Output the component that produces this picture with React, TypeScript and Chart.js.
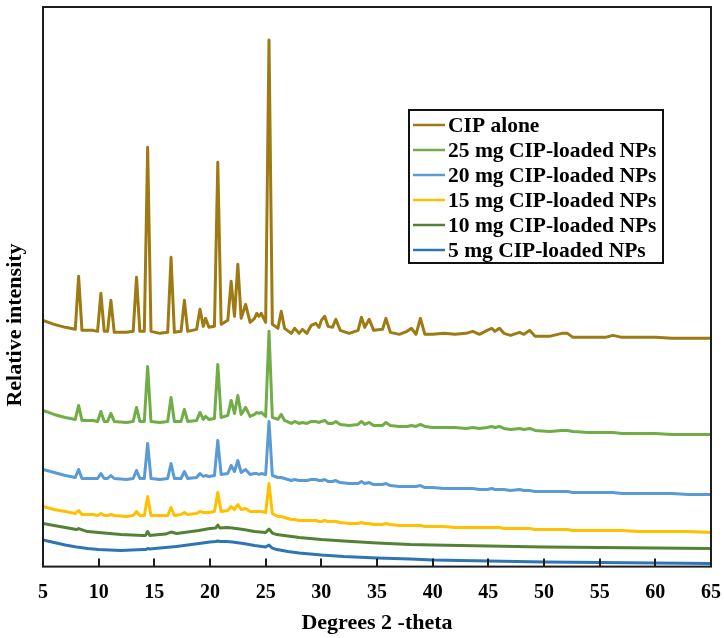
import React, { useEffect, useRef } from "react";
import { Chart, registerables } from "chart.js";

Chart.register(...registerables);

// 2-theta positions (degrees) used by the crystalline patterns
const peakTheta = [
  5, 6, 7, 7.9, 8.2, 8.5, 9.5, 9.9, 10.2, 10.5,
  10.8, 11.1, 11.4, 12.5, 13.1, 13.4, 13.7, 14.1, 14.4, 14.7,
  15.5, 16.2, 16.5, 16.8, 17.4, 17.7, 18.0, 18.8, 19.1, 19.4,
  19.6, 19.9, 20.4, 20.7, 21.0, 21.6, 21.9, 22.2, 22.5, 22.8,
  23.2, 23.6, 24.0, 24.2, 24.4, 24.6, 25.0, 25.3, 25.6, 26.1,
  26.4, 26.7, 27.3, 27.6, 28.0, 28.3, 28.7, 29.1, 29.5, 29.8,
  30.0, 30.3, 30.6, 31.0, 31.3, 31.7, 32.5, 33.3, 33.6, 33.9,
  34.3, 34.7, 35.5, 35.8, 36.2, 37.0, 37.7, 38.1, 38.5, 38.9,
  39.3, 40.0, 41.0, 42.0, 43.0, 43.6, 44.2, 44.9, 45.3, 45.6,
  46.0, 46.4, 47.0, 47.8, 48.2, 48.7, 49.2, 50.5, 51.6, 52.1,
  52.6, 54.0, 55.5, 56.2, 57.0, 58.5, 60.0, 61.5, 63.0, 65.0,
];

const cipAlone = [
  246, 242, 239, 237, 290, 236, 236, 235, 273, 235,
  235, 266, 234, 234, 235, 289, 235, 235, 419, 235,
  233, 234, 309, 234, 235, 266, 235, 237, 257, 240,
  248, 239, 240, 404, 242, 246, 285, 250, 302, 248,
  262, 244, 248, 253, 250, 253, 244, 526, 242, 238,
  255, 238, 233, 238, 233, 237, 233, 241, 243, 239,
  246, 250, 240, 239, 247, 236, 233, 236, 249, 239,
  247, 236, 237, 248, 234, 232, 235, 238, 232, 248,
  232, 232, 233, 232, 233, 235, 232, 236, 238, 235,
  238, 233, 231, 234, 232, 236, 230, 230, 233, 233,
  229, 229, 229, 231, 229, 229, 229, 228, 228, 228,
];

const np25 = [
  156, 152, 149, 147, 161, 146, 146, 145, 155, 145,
  145, 153, 145, 144, 145, 159, 145, 145, 200, 145,
  144, 145, 169, 145, 145, 157, 145, 146, 154, 147,
  150, 147, 148, 202, 149, 151, 166, 153, 171, 152,
  159, 150, 152, 154, 153, 154, 150, 235, 149, 147,
  152, 146, 143, 145, 143, 144, 143, 145, 145, 144,
  145, 146, 143, 143, 145, 142, 141, 142, 145, 142,
  144, 141, 141, 144, 141, 140, 140, 141, 140, 142,
  140, 139, 139, 139, 138, 139, 138, 139, 140, 139,
  140, 138, 137, 138, 137, 138, 136, 135, 136, 136,
  135, 134, 134, 134, 133, 133, 133, 132, 132, 132,
];

const np20 = [
  97, 94, 91, 89, 97, 88, 88, 88, 93, 88,
  88, 91, 88, 87, 88, 96, 88, 88, 123, 88,
  87, 88, 103, 88, 88, 95, 88, 89, 93, 90,
  91, 90, 91, 126, 92, 93, 101, 95, 106, 94,
  97, 92, 93, 93, 92, 93, 92, 145, 91, 89,
  89, 88, 86, 87, 86, 86, 86, 87, 87, 86,
  86, 87, 85, 85, 86, 84, 83, 83, 85, 83,
  84, 82, 82, 83, 81, 80, 80, 80, 80, 81,
  79, 79, 78, 78, 78, 78, 77, 77, 78, 77,
  77, 77, 76, 77, 76, 76, 75, 75, 75, 75,
  74, 74, 74, 74, 73, 73, 73, 73, 72, 72,
];

const np15 = [
  60, 57, 55, 53, 56, 52, 52, 51, 53, 51,
  51, 52, 51, 50, 51, 55, 51, 51, 70, 51,
  51, 51, 59, 51, 52, 54, 52, 53, 55, 54,
  54, 54, 55, 74, 55, 56, 60, 57, 62, 57,
  58, 55, 55, 55, 55, 55, 54, 83, 53, 50,
  50, 49, 47, 47, 46, 46, 46, 46, 46, 45,
  45, 46, 45, 45, 45, 44, 43, 43, 44, 43,
  43, 42, 42, 43, 42, 41, 41, 41, 41, 41,
  40, 40, 40, 39, 39, 39, 39, 39, 39, 39,
  39, 38, 38, 38, 38, 38, 37, 37, 37, 37,
  36, 36, 36, 36, 36, 35, 35, 35, 35, 34,
];

// 2-theta positions (degrees) for the mostly amorphous patterns
const amorphTheta = [
  5, 6, 7, 8, 8.2, 9, 10, 11, 12, 13,
  14, 14.2, 14.4, 14.6, 15, 16, 16.5, 17, 18, 19,
  20, 20.5, 20.7, 20.9, 21.5, 22, 23, 24, 25, 25.3,
  25.6, 26, 27, 28, 30, 32, 35, 38, 40, 45,
  50, 55, 60, 65,
];

const np10 = [
  43, 41, 39, 37, 38, 35, 34, 33, 32, 31.5,
  31, 31, 35, 31, 31.5, 32.5, 34.5, 33, 34.5, 36,
  38, 38.5, 41.5, 38.5, 39, 38.5, 37, 35, 34, 37.5,
  33.5, 32, 30.5, 29, 27, 25.5, 23.5, 22, 21.5, 20.5,
  19.5, 19, 18.5, 18,
];

const np5 = [
  26.5, 24, 21.5, 19.5, 19.3, 18, 17, 16.5, 16, 16.5,
  17, 17, 18, 17.5, 18, 19, 19.5, 20, 21.5, 23,
  24.5, 25, 25.5, 25, 25, 24.5, 23, 21, 19.5, 21.5,
  18.5, 17, 15, 13.5, 11.5, 10, 8.5, 7.5, 6.5, 5.5,
  4.5, 4, 3.5, 3,
];

const seriesLabels = [
  "CIP alone",
  "25 mg CIP-loaded NPs",
  "20 mg CIP-loaded NPs",
  "15 mg CIP-loaded NPs",
  "10 mg CIP-loaded NPs",
  "5 mg CIP-loaded NPs",
];
const seriesColors = ["#9E7A12", "#70AD47", "#5B9BD5", "#FFC000", "#548235", "#2E75B6"];

const xTickStep = 5;
const xMin = 5;
const xMax = 65;
const xTitle = "Degrees 2 -theta";
const yTitle = "Relative intensity";

const serif = "'Times New Roman', 'Liberation Serif', serif";

const toPoints = (xs: number[], ys: number[]) => xs.map((x, i) => ({ x, y: ys[i] }));

const decorPlugin = {
  id: "decor",
  afterDraw(chart: any) {
    const { ctx, chartArea: a, scales } = chart;
    const xs = scales.x;
    ctx.save();
    // frame
    ctx.strokeStyle = "#1c1c1c";
    ctx.lineWidth = 2;
    ctx.strokeRect(a.left, a.top, a.right - a.left, a.bottom - a.top);
    // inside tick marks
    ctx.beginPath();
    xs.ticks.forEach((t: any) => {
      if (t.value > xs.min && t.value < xs.max) {
        const px = Math.round(xs.getPixelForValue(t.value));
        ctx.moveTo(px, a.bottom);
        ctx.lineTo(px, a.bottom - 8);
      }
    });
    ctx.stroke();
    ctx.restore();

    // y title
    ctx.save();
    ctx.translate(a.left - 28, a.top + 318);
    ctx.rotate(-Math.PI / 2);
    ctx.font = `bold 22px ${serif}`;
    ctx.fillStyle = "#000";
    ctx.textAlign = "center";
    ctx.textBaseline = "middle";
    ctx.fillText(yTitle, 0, 0);
    ctx.restore();

    // legend
    ctx.save();
    const bx = a.right - 302;
    const by = a.top + 103;
    const bw = 254;
    const bh = 153;
    ctx.fillStyle = "#fff";
    ctx.fillRect(bx, by, bw, bh);
    ctx.strokeStyle = "#111";
    ctx.lineWidth = 2;
    ctx.strokeRect(bx, by, bw, bh);
    ctx.font = `bold 21.5px ${serif}`;
    ctx.textAlign = "left";
    ctx.textBaseline = "middle";
    chart.data.datasets.forEach((ds: any, i: number) => {
      const cy = by + 15 + i * 25;
      ctx.strokeStyle = ds.borderColor;
      ctx.lineWidth = 2.5;
      ctx.beginPath();
      ctx.moveTo(bx + 4, cy);
      ctx.lineTo(bx + 36, cy);
      ctx.stroke();
      ctx.fillStyle = "#000";
      ctx.fillText(ds.label, bx + 39, cy + 1);
    });
    ctx.restore();
  },
};

export default function App() {
  const canvasRef = useRef<HTMLCanvasElement | null>(null);

  useEffect(() => {
    if (!canvasRef.current) return;
    const ys = [cipAlone, np25, np20, np15, np10, np5];
    const xsFor = [peakTheta, peakTheta, peakTheta, peakTheta, amorphTheta, amorphTheta];
    const chart = new Chart(canvasRef.current, {
      type: "line",
      data: {
        datasets: ys.map((y, i) => ({
          label: seriesLabels[i],
          data: toPoints(xsFor[i], y),
          borderColor: seriesColors[i],
          backgroundColor: seriesColors[i],
          borderWidth: 3,
          pointRadius: 0,
          tension: 0,
          borderJoinStyle: "round" as const,
          fill: false,
        })),
      },
      options: {
        responsive: false,
        animation: false,
        layout: { padding: { left: 43, right: 13, top: 7, bottom: 1 } },
        plugins: {
          legend: { display: false },
          tooltip: { enabled: false },
        },
        scales: {
          x: {
            type: "linear",
            min: xMin,
            max: xMax,
            ticks: {
              stepSize: xTickStep,
              color: "#000",
              padding: 2,
              maxRotation: 0,
              autoSkip: false,
              font: { family: serif, size: 20, weight: "bold" },
            },
            grid: { display: false, drawTicks: true, tickLength: 12 },
            border: { display: false },
            title: {
              display: true,
              text: xTitle,
              color: "#000",
              font: { family: serif, size: 22, weight: "bold" },
              padding: { top: 4, bottom: 0 },
            },
          },
          y: { display: false, min: 0, max: 559 },
        },
      },
      plugins: [decorPlugin],
    });
    return () => chart.destroy();
  }, []);

  return (
    <div style={{ position: "absolute", left: 0, top: 0, width: 724, height: 638, background: "#fff" }}>
      <canvas ref={canvasRef} width={724} height={638} style={{ display: "block" }} />
    </div>
  );
}
